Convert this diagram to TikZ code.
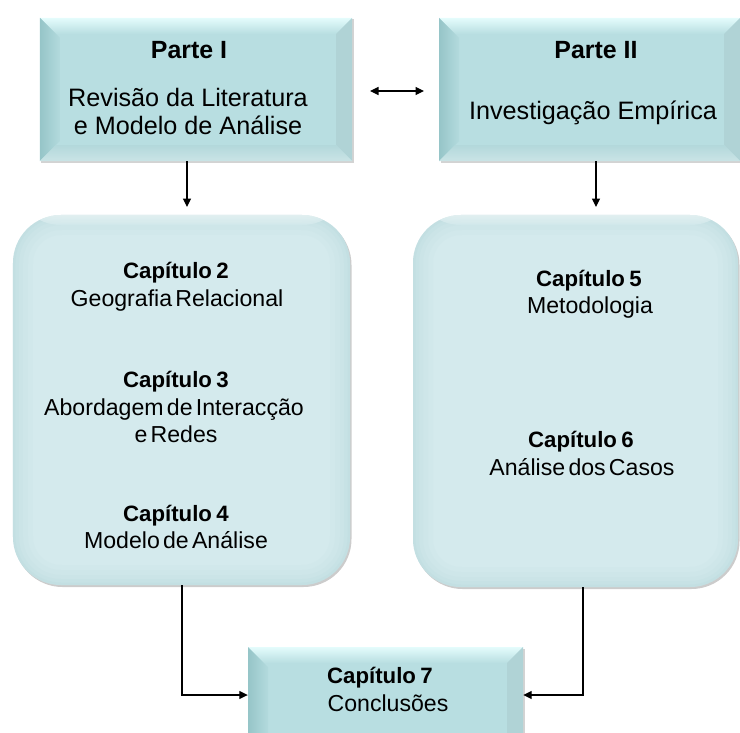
\documentclass[tikz,border=0pt]{standalone}
\usepackage{fontspec}
\setmainfont{Liberation Sans}
\usetikzlibrary{arrows.meta,calc,shadows}

\definecolor{bevelmid}{HTML}{B8DEE1}
\definecolor{beveltop}{HTML}{E4FCFC}
\definecolor{bevelleft}{HTML}{96C5C8}
\definecolor{bevelright}{HTML}{B0D3D6}
\definecolor{bevelbot}{HTML}{B3D8DB}
\definecolor{roundfill}{HTML}{D4EAED}
\definecolor{roundedge}{HTML}{B2D4D8}

% narrower interword space for the chapter labels
\newcommand\tightwords[1]{\spaceskip=#1\relax}

\tikzset{
  % bevelled slab: flat centre with four shaded chamfers
  bevelbox/.style={
    rectangle, inner sep=0pt, draw=none,
    drop shadow={shadow xshift=1.5bp, shadow yshift=-1.5bp, opacity=0.35, fill=gray},
    path picture={
      \coordinate (bNW) at (path picture bounding box.north west);
      \coordinate (bNE) at (path picture bounding box.north east);
      \coordinate (bSW) at (path picture bounding box.south west);
      \coordinate (bSE) at (path picture bounding box.south east);
      \fill[bevelmid] (bNW) rectangle (bSE);
      \shade[top color=beveltop, bottom color=bevelmid]
        (bNW) -- (bNE) -- ($(bNE)+(-16bp,-16bp)$) -- ($(bNW)+(16bp,-16bp)$) -- cycle;
      \shade[left color=bevelleft, right color=bevelmid!85!bevelleft]
        (bNW) -- ($(bNW)+(20bp,-20bp)$) -- ($(bSW)+(20bp,20bp)$) -- (bSW) -- cycle;
      \fill[bevelright]
        (bNE) -- ($(bNE)+(-16bp,-16bp)$) -- ($(bSE)+(-16bp,16bp)$) -- (bSE) -- cycle;
      \shade[top color=bevelbot, bottom color=bevelbot!70!white]
        (bSW) -- ($(bSW)+(16bp,16bp)$) -- ($(bSE)+(-16bp,16bp)$) -- (bSE) -- cycle;
    }
  },
  % soft rounded panel with a darker inner rim and a light top edge
  roundbox/.style={
    rectangle, rounded corners=48bp, inner sep=0pt, fill=roundfill,
    drop shadow={shadow xshift=1.5bp, shadow yshift=-2bp, opacity=0.4, fill=gray},
    path picture={
      \foreach \w/\o in {40bp/0.07, 30bp/0.08, 20bp/0.1, 12bp/0.12, 5bp/0.18}
        \draw[roundedge, line width=\w, opacity=\o, rounded corners=48bp]
          (path picture bounding box.south west) rectangle (path picture bounding box.north east);
      \shade[top color=white, bottom color=roundfill, opacity=0.5]
        (path picture bounding box.north west) rectangle
        ($(path picture bounding box.north east)+(0,-10bp)$);
    }
  },
  parthead/.style={font={\fontsize{25}{28}\selectfont\bfseries}, inner sep=0pt, anchor=base},
  parttext/.style={font={\fontsize{25.3}{28}\selectfont}, inner sep=0pt, anchor=base},
  chaphead/.style={font={\fontsize{22.3}{26}\selectfont\bfseries\tightwords{0.2em}}, inner sep=0pt, anchor=base},
  chaptext/.style={font={\fontsize{23.2}{26}\selectfont\tightwords{0.14em}}, inner sep=0pt, anchor=base},
  link/.style={line width=1.2bp, black},
  tip/.style={-{Triangle[length=8.5bp,width=8bp]}},
  tips/.style={{Triangle[length=8.5bp,width=8bp]}-{Triangle[length=8.5bp,width=8bp]}}
}

\begin{document}
\begin{tikzpicture}[x=1bp, y=-1bp]
  \useasboundingbox (0,0) rectangle (740,733);

  % part boxes
  \node[bevelbox, minimum width=312bp, minimum height=143bp] (p1) at (196,89.5) {};
  \node[bevelbox, minimum width=301bp, minimum height=143bp] (p2) at (589.5,89.5) {};

  % chapter panels
  \node[roundbox, minimum width=337bp, minimum height=370bp] (c1) at (181.5,400) {};
  \node[roundbox, minimum width=325bp, minimum height=372bp] (c2) at (575.5,401) {};

  % conclusions box (runs off the lower edge)
  \node[bevelbox, minimum width=275bp, minimum height=110bp] (c7) at (385.5,702) {};

  % texts of part I
  \node[parthead] (t1a) at (189,59) {Parte I};
  \node[parttext] (t1b) at (188,107) {Revisão da Literatura};
  \node[parttext] (t1c) at (188,135) {e Modelo de Análise};

  % texts of part II
  \node[parthead] (t2a) at (596,59) {Parte II};
  \node[parttext] (t2b) at (593,120) {Investigação Empírica};

  % chapters 2--4
  \node[chaphead] (k2a) at (176,278) {Capítulo 2};
  \node[chaptext] (k2b) at (177,306) {Geografia Relacional};
  \node[chaphead] (k3a) at (176,387) {Capítulo 3};
  \node[chaptext] (k3b) at (174,415) {Abordagem de Interacção};
  \node[chaptext] (k3c) at (176,442) {e Redes};
  \node[chaphead] (k4a) at (176,521) {Capítulo 4};
  \node[chaptext] (k4b) at (176,548) {Modelo de Análise};

  % chapters 5--6
  \node[chaphead] (k5a) at (589,286) {Capítulo 5};
  \node[chaptext] (k5b) at (590,313) {Metodologia};
  \node[chaphead] (k6a) at (581,447) {Capítulo 6};
  \node[chaptext] (k6b) at (582,475) {Análise dos Casos};

  % chapter 7
  \node[chaphead] (k7a) at (380,683) {Capítulo 7};
  \node[chaptext] (k7b) at (388,711) {Conclusões};

  % connector ends
  \coordinate (d1) at (187,207);
  \coordinate (d2) at (596,207);
  \coordinate (h1) at (370,91);
  \coordinate (h2) at (424,91);
  \coordinate (e1) at (182,695);
  \coordinate (e2) at (583,695);

  % connectors
  \draw[link, tips] (h1) -- (h2);
  \draw[link, tip] (p1.south -| d1) -- (d1);
  \draw[link, tip] (p2.south -| d2) -- (d2);
  \draw[link, tip] (c1.south -| e1) -- (e1) -- (e1 -| c7.west);
  \draw[link, tip] (c2.south -| e2) -- (e2) -- (e2 -| c7.east);
\end{tikzpicture}
\end{document}
